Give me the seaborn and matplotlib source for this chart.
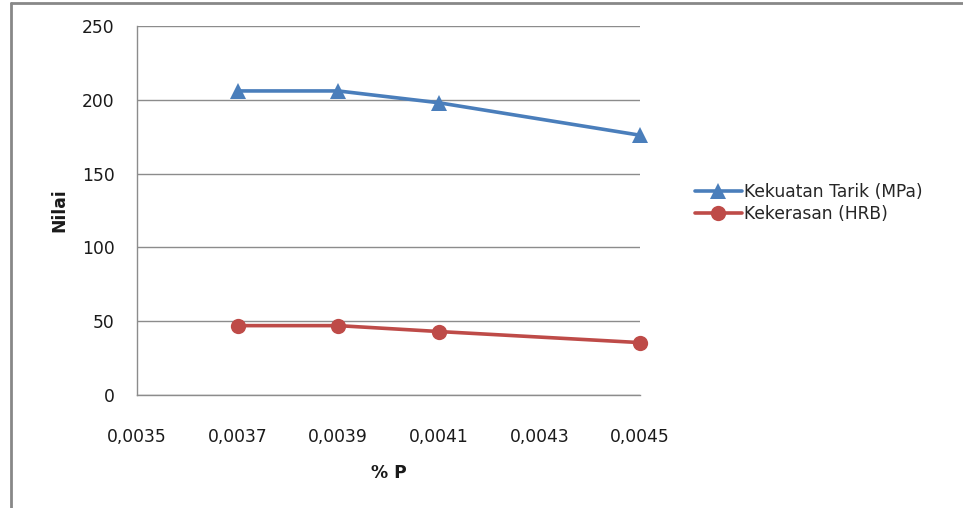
import matplotlib
matplotlib.use("Agg")
import matplotlib.pyplot as plt
from matplotlib.lines import Line2D
from matplotlib.ticker import FuncFormatter
import seaborn as sns
import pandas as pd

# Phosphorus content (% P) and measured properties
p_content = [0.0037, 0.0039, 0.0041, 0.0045]
tensile_strength = [206, 206, 198, 176]   # Kekuatan Tarik (MPa)
hardness = [47, 47, 43, 35.5]             # Kekerasan (HRB)
series_names = ["Kekuatan Tarik (MPa)", "Kekerasan (HRB)"]
x_ticks = [0.0035, 0.0037, 0.0039, 0.0041, 0.0043, 0.0045]
y_ticks = [0, 50, 100, 150, 200, 250]

df = pd.DataFrame({
    "P": p_content * 2,
    "Nilai": tensile_strength + hardness,
    "Seri": [series_names[0]] * len(p_content) + [series_names[1]] * len(p_content),
})

sns.set_theme(style="white")
plt.rcParams["font.family"] = ["DejaVu Sans"]

FS = 12.3
fig = plt.figure(figsize=(9.63, 5.08), dpi=100)
ax = fig.add_axes([137 / 963, 1 - 395 / 508, (640 - 137) / 963, (395 - 26) / 508])

palette = {series_names[0]: "#4A7EBB", series_names[1]: "#BE4B48"}
markers = {series_names[0]: "^", series_names[1]: "o"}
sns.lineplot(data=df, x="P", y="Nilai", hue="Seri", style="Seri",
             palette=palette, markers=markers, dashes=False,
             linewidth=2.6, markersize=11, markeredgewidth=0,
             ax=ax, clip_on=False, legend=False)

ax.set_xlim(0.0035, 0.0045)
ax.set_ylim(0, 250)
ax.set_xticks(x_ticks)
ax.set_yticks(y_ticks)
ax.xaxis.set_major_formatter(FuncFormatter(lambda v, _: f"{v:.4f}".replace(".", ",")))
ax.yaxis.set_major_formatter(FuncFormatter(lambda v, _: f"{v:.0f}"))

grid_c = "#8C8C8C"
ax.yaxis.grid(True, color=grid_c, linewidth=1.0)
ax.xaxis.grid(False)
for side in ["top", "right"]:
    ax.spines[side].set_visible(False)
for side in ["left", "bottom"]:
    ax.spines[side].set_color(grid_c)
    ax.spines[side].set_linewidth(1.0)
ax.tick_params(axis="both", which="major", direction="out", length=5,
               width=1, color=grid_c, labelsize=FS, labelcolor="#1a1a1a")
ax.tick_params(axis="x", pad=19)
ax.tick_params(axis="y", pad=11)
ax.set_axisbelow(True)

ax.set_ylabel("Nilai", fontsize=FS, fontweight="bold", labelpad=10, color="#1a1a1a")
ax.set_xlabel("% P", fontsize=FS, fontweight="bold", labelpad=13, color="#1a1a1a")

handles = [
    Line2D([], [], color=palette[n], marker=markers[n], linewidth=2.6,
           markersize=11, markeredgewidth=0) for n in series_names
]
fig.legend(handles, series_names, loc="upper left",
           bbox_to_anchor=(688 / 963, 1 - 176 / 508), frameon=False,
           fontsize=FS, handlelength=2.75, handletextpad=0.1,
           labelspacing=0.25, borderaxespad=0)

# page frame on the left and top
frame_c = "#888888"
fig.add_artist(Line2D([11 / 963, 11 / 963], [0, 1 - 3 / 508], color=frame_c,
                      linewidth=2, transform=fig.transFigure))
fig.add_artist(Line2D([11 / 963, 1], [1 - 3 / 508, 1 - 3 / 508], color=frame_c,
                      linewidth=2, transform=fig.transFigure))

fig.savefig("out.png", dpi=100, facecolor="white")
